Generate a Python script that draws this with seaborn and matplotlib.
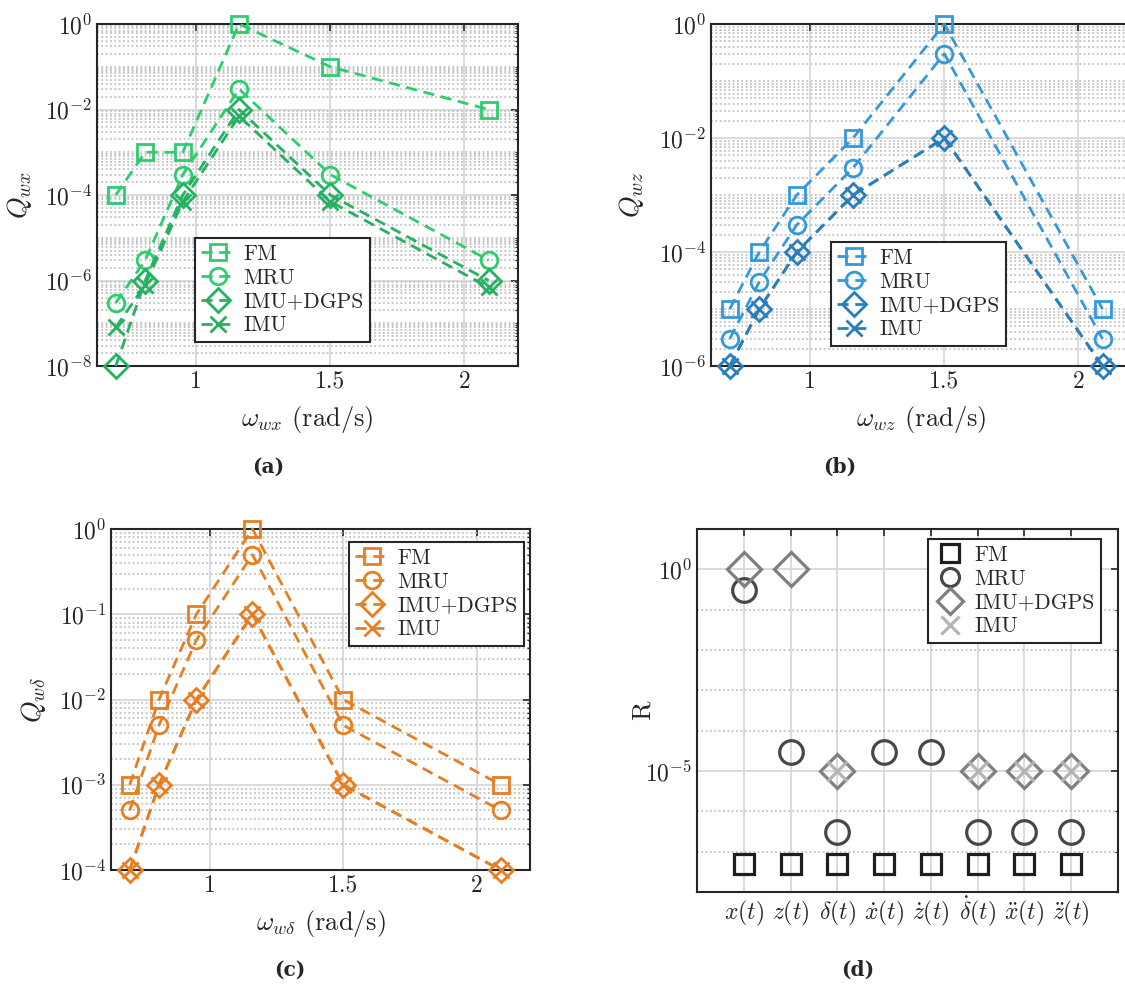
import numpy as np
import seaborn as sns
import matplotlib.pyplot as plt
from matplotlib.ticker import FixedLocator, FixedFormatter, NullFormatter

# wave frequencies (rad/s) used in panels a-c
omega = [0.70, 0.81, 0.95, 1.16, 1.50, 2.09]
sensors = ['FM', 'MRU', 'IMU+DGPS', 'IMU']

# (a) Q_wx
qwx_fm = [1e-4, 1e-3, 1e-3, 1.0, 1e-1, 1e-2]
qwx_mru = [3e-7, 3e-6, 3e-4, 3e-2, 3e-4, 3e-6]
qwx_dgps = [1e-8, 1e-6, 1e-4, 1e-2, 1e-4, 1e-6]
qwx_imu = [8e-8, 8e-7, 7e-5, 7e-3, 7e-5, 7e-7]

# (b) Q_wz
qwz_fm = [1e-5, 1e-4, 1e-3, 1e-2, 1.0, 1e-5]
qwz_mru = [3e-6, 3e-5, 3e-4, 3e-3, 3e-1, 3e-6]
qwz_dgps = [1e-6, 1e-5, 1e-4, 1e-3, 1e-2, 1e-6]
qwz_imu = [1e-6, 1e-5, 1e-4, 1e-3, 1e-2, 1e-6]

# (c) Q_wdelta
qwd_fm = [1e-3, 1e-2, 1e-1, 1.0, 1e-2, 1e-3]
qwd_mru = [5e-4, 5e-3, 5e-2, 5e-1, 5e-3, 5e-4]
qwd_dgps = [1e-4, 1e-3, 1e-2, 1e-1, 1e-3, 1e-4]
qwd_imu = [1e-4, 1e-3, 1e-2, 1e-1, 1e-3, 1e-4]

# (d) measurement noise R per state
states = [r'$x(t)$', r'$z(t)$', r'$\delta(t)$', r'$\dot{x}(t)$',
          r'$\dot{z}(t)$', r'$\dot{\delta}(t)$', r'$\ddot{x}(t)$', r'$\ddot{z}(t)$']
nan = np.nan
r_fm = [5e-8, 5e-8, 5e-8, 5e-8, 5e-8, 5e-8, 5e-8, 5e-8]
r_mru = [0.3, 3e-5, 3e-7, 3e-5, 3e-5, 3e-7, 3e-7, 3e-7]
r_dgps = [1.0, 1.0, 1e-5, nan, nan, 1e-5, 1e-5, 1e-5]
r_imu = [nan, nan, 1e-5, nan, nan, 1e-5, 1e-5, 1e-5]

markers = ['s', 'o', 'D', 'x']
greens = ['#2ecc71', '#2ecc71', '#25b062', '#25b062']
blues = ['#3498db', '#3498db', '#2a7fba', '#2a7fba']
oranges = ['#e67e22', '#e67e22', '#e67e22', '#e67e22']
grays = ['#1e1e1e', '#474747', '#7f7f7f', '#b4b4b4']

sns.set_style('white')
plt.rcParams['font.family'] = ['cmr10', 'DejaVu Serif']
plt.rcParams['mathtext.fontset'] = 'cm'
plt.rcParams['axes.formatter.use_mathtext'] = True
plt.rcParams['axes.unicode_minus'] = False

W, H = 1125, 989
fig = plt.figure(figsize=(W / 100, H / 100), dpi=100)


def px_axes(left, top, right, bottom):
    return fig.add_axes([left / W, 1 - bottom / H, (right - left) / W, (bottom - top) / H])


def style_axes(ax, lo, hi, majors, minor_subs):
    ax.set_yscale('log')
    ax.set_ylim(lo, hi)
    minors = [k * 10.0 ** e for e in range(int(np.log10(lo)), int(np.log10(hi)) + 1)
              for k in minor_subs]
    minors = [v for v in minors if lo <= v <= hi and all(abs(v / m - 1) > 1e-6 for m in majors)]
    ax.yaxis.set_major_locator(FixedLocator(majors))
    ax.yaxis.set_major_formatter(FixedFormatter([r'$10^{%d}$' % round(np.log10(m)) for m in majors]))
    ax.yaxis.set_minor_locator(FixedLocator(minors))
    ax.yaxis.set_minor_formatter(NullFormatter())
    ax.set_axisbelow(True)
    ax.grid(which='major', color='#dadada', lw=1.4, ls='-')
    ax.grid(which='minor', axis='y', color='#c2c2c2', lw=1.3, ls=(0, (1, 1.4)))
    ax.tick_params(which='both', direction='in', top=True, right=True,
                   labelsize=17, color='#262626')
    ax.tick_params(which='major', length=5, width=1.2)
    ax.tick_params(which='minor', length=2.5, width=0.9)
    for s in ax.spines.values():
        s.set_color('#262626')
        s.set_linewidth(1.5)
        s.set_zorder(2.5)


def add_legend(ax, x, y, **kw):
    leg = ax.legend(loc='upper left', bbox_to_anchor=(x / W, 1 - y / H),
                    bbox_transform=fig.transFigure, frameon=True, fancybox=False,
                    edgecolor='#262626', framealpha=1, fontsize=15.5,
                    labelspacing=0.2, borderpad=0.3, handletextpad=0.45,
                    borderaxespad=0, **kw)
    leg.get_frame().set_linewidth(1.5)
    return leg


def q_panel(box, series, colors, ylim, majors, ylabel, xlabel, leg_xy, ylab_x):
    ax = px_axes(*box)
    for name, q, c, m in zip(sensors, series, colors, markers):
        sns.lineplot(x=omega, y=q, ax=ax, color=c, marker=m, linestyle=(0, (4, 2.4)),
                     linewidth=2, markersize=12, markerfacecolor='none',
                     markeredgecolor=c, markeredgewidth=2, label=name,
                     errorbar=None, sort=False, clip_on=False, zorder=3)
    ax.set_xlim(0.63, 2.2)
    ax.set_xticks([1, 1.5, 2], labels=['1', '1.5', '2'])
    style_axes(ax, ylim[0], ylim[1], majors, range(1, 10))
    ax.set_ylabel(ylabel, fontsize=20)
    ax.set_xlabel(xlabel, fontsize=19)
    ax.yaxis.set_label_coords(ylab_x, 0.5)
    ax.xaxis.set_label_coords(0.5, -0.112)
    leg = add_legend(ax, *leg_xy, handlelength=1.5)
    leg.set_zorder(5)
    return ax


q_panel((97, 24, 518, 366), [qwx_fm, qwx_mru, qwx_dgps, qwx_imu], greens,
        (1e-8, 1.0), [1e-8, 1e-6, 1e-4, 1e-2, 1.0],
        r'$Q_{wx}$', r'$\omega_{wx}$ (rad/s)', (195, 238), -0.15)
q_panel((711, 24, 1132, 366), [qwz_fm, qwz_mru, qwz_dgps, qwz_imu], blues,
        (1e-6, 1.0), [1e-6, 1e-4, 1e-2, 1.0],
        r'$Q_{wz}$', r'$\omega_{wz}$ (rad/s)', (831, 242), -0.155)
q_panel((111, 529, 530, 870), [qwd_fm, qwd_mru, qwd_dgps, qwd_imu], oranges,
        (1e-4, 1.0), [1e-4, 1e-3, 1e-2, 1e-1, 1.0],
        r'$Q_{w\delta}$', r'$\omega_{w\delta}$ (rad/s)', (349, 542), -0.15)

# (d)
axd = px_axes(697, 529, 1118, 892)
d_sizes = [15, 17, 17, 14]
for name, r, c, m, ms in zip(sensors, [r_fm, r_mru, r_dgps, r_imu], grays, markers, d_sizes):
    sns.lineplot(x=states, y=r, ax=axd, color=c, marker=m, linestyle='none',
                 markersize=ms, markerfacecolor='none', markeredgecolor=c,
                 markeredgewidth=2.3, label=name, errorbar=None, sort=False)
axd.set_xlim(-1, 8)
style_axes(axd, 1e-8, 10.0, [1e-5, 1.0], [1])
axd.tick_params(axis='x', which='major', pad=20)
plt.setp(axd.get_xticklabels(), va='baseline')
axd.set_xlabel('')
axd.set_ylabel('R', fontsize=19)
axd.yaxis.set_label_coords(-0.1, 0.5)
leg = add_legend(axd, 928, 539, handlelength=1.4)
for h in leg.legend_handles:
    h.set_markersize(13)

for lab, x, y in [('(a)', 268, 467), ('(b)', 840, 467), ('(c)', 290, 970), ('(d)', 858, 970)]:
    fig.text(x / W, 1 - y / H, lab, ha='center', va='center', fontsize=14.5,
             fontweight='bold', family='DejaVu Serif')

fig.savefig('out.png', dpi=100)
